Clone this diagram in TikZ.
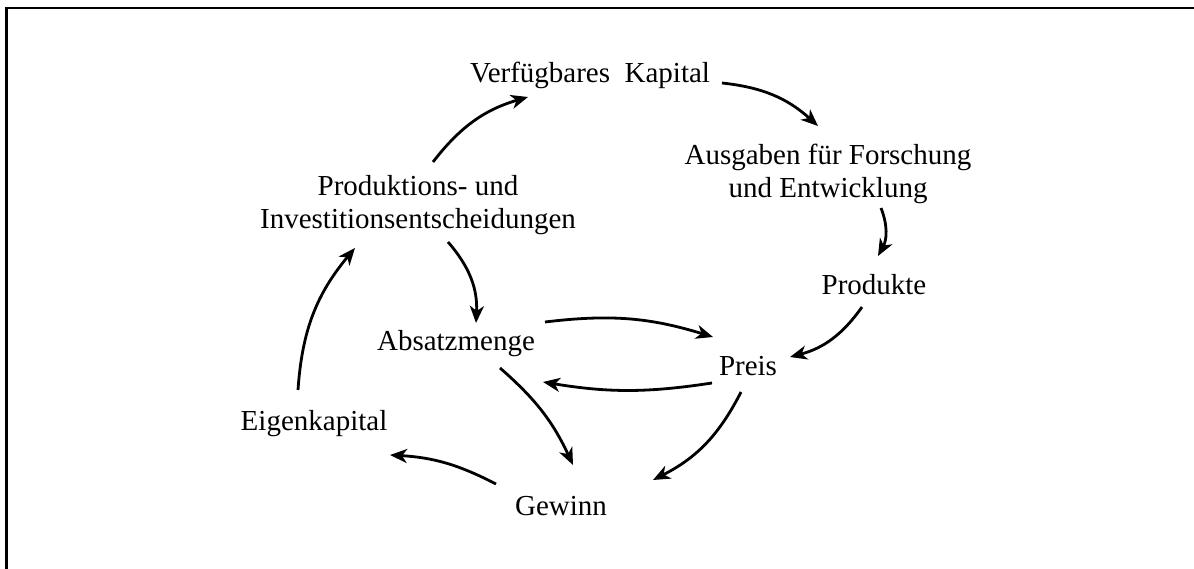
\documentclass[tikz,border=0pt]{standalone}
\usepackage{fontspec}
\setmainfont{Liberation Serif}
\usetikzlibrary{arrows.meta,calc}
\tikzset{
  lbl/.style={inner sep=0pt, align=center, font=\fontsize{29}{33}\selectfont},
  flow/.style={line width=2.8pt, -{Stealth[length=17pt,width=14pt,inset=5pt]}},
}
\begin{document}
\begin{tikzpicture}[x=1pt,y=-1pt]
\useasboundingbox (0,0) rectangle (1194,569);
% frame: top and left edges
\draw[line width=2.2pt] (6.5,569) -- (6.5,8) -- (1194,8);

% quantities
\node[lbl] (kap)  at (590,75)  {Verfügbares\hspace{0.5em}Kapital};
\node[lbl] (fue)  at (828,174) {Ausgaben für Forschung\\und Entwicklung};
\node[lbl] (prd)  at (874,285) {Produkte};
\node[lbl] (prs)  at (748,366) {Preis};
\node[lbl] (abs)  at (456,344) {Absatzmenge};
\node[lbl] (pie)  at (418,205) {Produktions- und\\Investitionsentscheidungen};
\node[lbl] (eig)  at (314,424) {Eigenkapital};
\node[lbl] (gew)  at (561,506) {Gewinn};

% influences
\draw[flow] ($(pie)+(15,-43)$) to[bend left=18] ($(kap)+(-62,22)$);
\draw[flow] ($(kap)+(132,8)$)  to[bend left=18] ($(fue)+(-10,-48)$);
\draw[flow] ($(fue)+(53,34)$)  to[bend left=25] ($(prd)+(4,-29)$);
\draw[flow] ($(prd)+(-12,22)$) to[bend left=20] ($(prs)+(42,-9)$);
\draw[flow] ($(abs)+(89,-22)$) to[bend left=12] ($(prs)+(-35,-29)$);
\draw[flow] ($(prs)+(-36,17)$) to[bend left=9]  ($(abs)+(87,38)$);
\draw[flow] ($(prs)+(-7,26)$)  to[bend left=18] ($(gew)+(92,-26)$);
\draw[flow] ($(abs)+(44,24)$)  to[bend left=12] ($(gew)+(12,-41)$);
\draw[flow] ($(gew)+(-65,-22)$) to[bend right=12] ($(eig)+(76,31)$);
\draw[flow] ($(eig)+(-16,-34)$) to[bend left=18] ($(pie)+(-63,43)$);
\draw[flow] ($(pie)+(30,37)$)  to[bend left=22] ($(abs)+(20,-21)$);
\end{tikzpicture}
\end{document}
